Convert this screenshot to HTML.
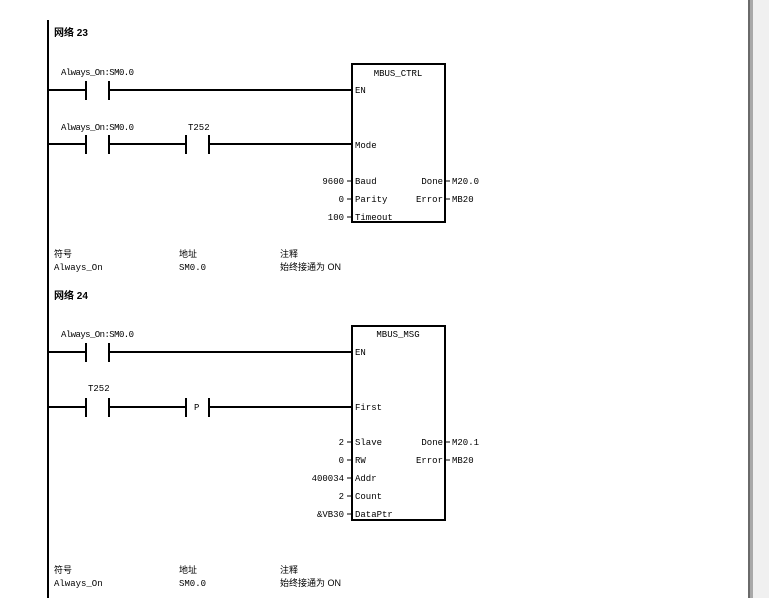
<!DOCTYPE html>
<html><head><meta charset="utf-8"><style>
html,body{margin:0;padding:0;background:#fff;width:769px;height:598px;overflow:hidden}
svg{display:block}
text{font-family:"Liberation Mono","Noto Sans CJK SC",monospace;font-size:9px;fill:#000}
.b{font-family:"Liberation Sans","Noto Sans CJK SC",sans-serif;font-weight:bold;font-size:10px}
.c{font-family:"Liberation Sans","Noto Sans CJK SC",sans-serif;font-size:9px}
</style></head><body>
<svg width="769" height="598" viewBox="0 0 769 598">
<rect x="748" y="0" width="2" height="598" fill="#6a6a6a"/>
<rect x="750" y="0" width="3" height="598" fill="#a8a8a8"/>
<rect x="753" y="0" width="16" height="598" fill="#f0f0f0"/>
<rect x="47" y="20" width="2" height="578" fill="#000"/>
<g stroke="#000" stroke-width="2" fill="none">
<line x1="49" y1="90" x2="86" y2="90"/><line x1="86" y1="81" x2="86" y2="100"/><line x1="109" y1="81" x2="109" y2="100"/><line x1="109" y1="90" x2="352" y2="90"/>
<line x1="49" y1="144" x2="86" y2="144"/><line x1="86" y1="135" x2="86" y2="154"/><line x1="109" y1="135" x2="109" y2="154"/><line x1="109" y1="144" x2="186" y2="144"/>
<line x1="186" y1="135" x2="186" y2="154"/><line x1="209" y1="135" x2="209" y2="154"/><line x1="209" y1="144" x2="352" y2="144"/>
<rect x="352" y="64" width="93" height="158"/>
<line x1="49" y1="352" x2="86" y2="352"/><line x1="86" y1="343" x2="86" y2="362"/><line x1="109" y1="343" x2="109" y2="362"/><line x1="109" y1="352" x2="352" y2="352"/>
<line x1="49" y1="407" x2="86" y2="407"/><line x1="86" y1="398" x2="86" y2="417"/><line x1="109" y1="398" x2="109" y2="417"/><line x1="109" y1="407" x2="186" y2="407"/>
<line x1="186" y1="398" x2="186" y2="417"/><line x1="209" y1="398" x2="209" y2="417"/><line x1="209" y1="407" x2="352" y2="407"/>
<rect x="352" y="326" width="93" height="194"/>
</g>
<g stroke="#000" stroke-width="1">
<line x1="347" y1="181" x2="352" y2="181"/><line x1="347" y1="199" x2="352" y2="199"/><line x1="347" y1="217" x2="352" y2="217"/>
<line x1="445" y1="181" x2="450" y2="181"/><line x1="445" y1="199" x2="450" y2="199"/>
<line x1="347" y1="442" x2="352" y2="442"/><line x1="347" y1="460" x2="352" y2="460"/><line x1="347" y1="478" x2="352" y2="478"/><line x1="347" y1="496" x2="352" y2="496"/><line x1="347" y1="514" x2="352" y2="514"/>
<line x1="445" y1="442" x2="450" y2="442"/><line x1="445" y1="460" x2="450" y2="460"/>
</g>
<text class="b" x="54" y="36">网络 23</text>
<text x="61" y="75" textLength="73">Always_On:SM0.0</text>
<text x="61" y="130" textLength="73">Always_On:SM0.0</text>
<text x="188" y="130">T252</text>
<text x="398" y="76" text-anchor="middle">MBUS_CTRL</text>
<text x="355" y="93">EN</text>
<text x="355" y="148">Mode</text>
<text x="355" y="184">Baud</text>
<text x="355" y="202">Parity</text>
<text x="355" y="220">Timeout</text>
<text x="344" y="184" text-anchor="end">9600</text>
<text x="344" y="202" text-anchor="end">0</text>
<text x="344" y="220" text-anchor="end">100</text>
<text x="443" y="184" text-anchor="end">Done</text>
<text x="443" y="202" text-anchor="end">Error</text>
<text x="452" y="184">M20.0</text>
<text x="452" y="202">MB20</text>
<text class="c" x="54" y="257">符号</text><text class="c" x="179" y="257">地址</text><text class="c" x="280" y="257">注释</text>
<text x="54" y="270">Always_On</text><text x="179" y="270">SM0.0</text><text class="c" x="280" y="270">始终接通为 ON</text>
<text class="b" x="54" y="299">网络 24</text>
<text x="61" y="337" textLength="73">Always_On:SM0.0</text>
<text x="88" y="391">T252</text>
<text x="194" y="410">P</text>
<text x="398" y="337" text-anchor="middle">MBUS_MSG</text>
<text x="355" y="355">EN</text>
<text x="355" y="410">First</text>
<text x="355" y="445">Slave</text>
<text x="355" y="463">RW</text>
<text x="355" y="481">Addr</text>
<text x="355" y="499">Count</text>
<text x="355" y="517">DataPtr</text>
<text x="344" y="445" text-anchor="end">2</text>
<text x="344" y="463" text-anchor="end">0</text>
<text x="344" y="481" text-anchor="end">400034</text>
<text x="344" y="499" text-anchor="end">2</text>
<text x="344" y="517" text-anchor="end">&amp;VB30</text>
<text x="443" y="445" text-anchor="end">Done</text>
<text x="443" y="463" text-anchor="end">Error</text>
<text x="452" y="445">M20.1</text>
<text x="452" y="463">MB20</text>
<text class="c" x="54" y="573">符号</text><text class="c" x="179" y="573">地址</text><text class="c" x="280" y="573">注释</text>
<text x="54" y="586">Always_On</text><text x="179" y="586">SM0.0</text><text class="c" x="280" y="586">始终接通为 ON</text>
</svg>
</body></html>
